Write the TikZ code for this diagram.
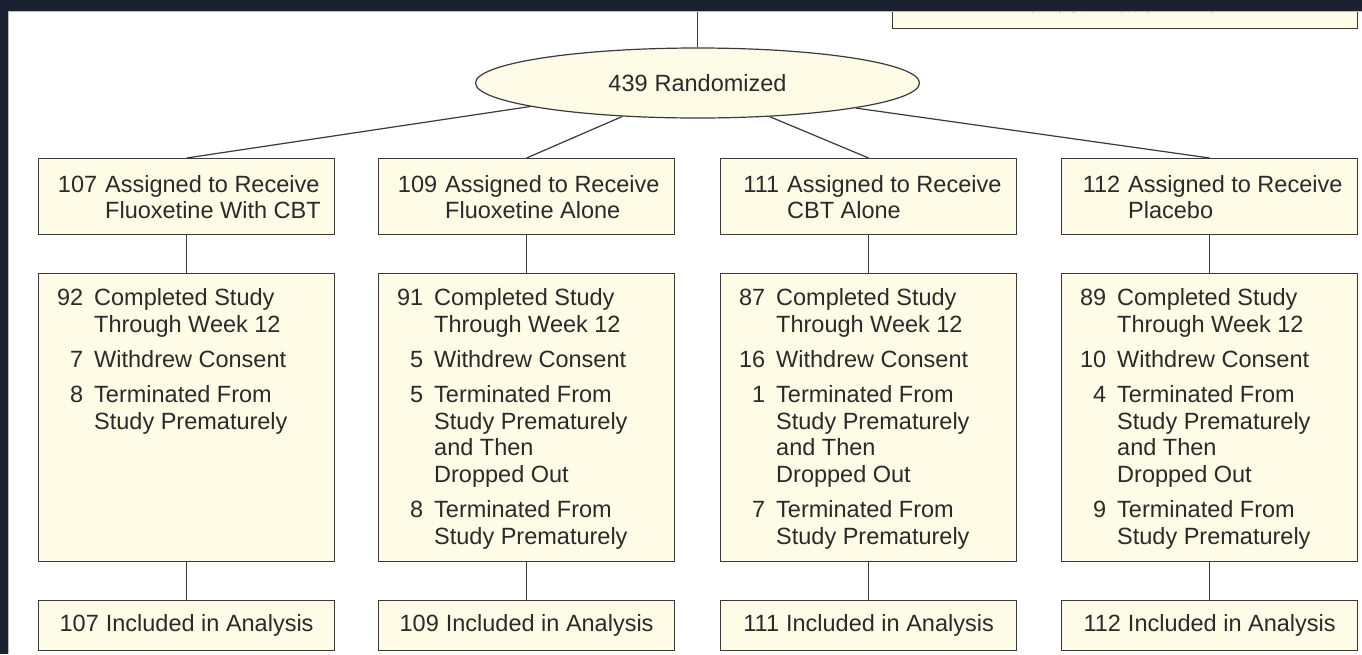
\documentclass[tikz,border=0pt]{standalone}
\usepackage{fontspec}
\setmainfont{Liberation Sans}
\usetikzlibrary{shapes.geometric}
\definecolor{cream}{HTML}{FEFCE6}
\definecolor{edge}{HTML}{3A3A3A}
\definecolor{ink}{HTML}{2A2A2A}
\definecolor{frame}{HTML}{1B2130}
\newcommand\numA[1]{\makebox[49pt][r]{#1}}
\newcommand\numB[1]{\makebox[33pt][r]{#1}}
\begin{document}
\begin{tikzpicture}[x=1pt,y=-1pt,
  box/.style={draw=edge, fill=cream, line width=1.2pt, inner sep=0pt,
              anchor=north west, minimum width=296pt},
  link/.style={draw=edge, line width=1.2pt},
  txt/.style={anchor=base west, inner sep=0pt, text=ink,
              font=\fontsize{23.5}{26.6}\selectfont},
  lbl/.style={text=ink, font=\fontsize{23.5}{26.6}\selectfont}]

\useasboundingbox (0,0) rectangle (1362,654);
\fill[white] (0,0) rectangle (1362,654);

% exclusion box at the top right (mostly above the visible area)
\node[box, minimum width=465pt, minimum height=48pt] (err) at (892,-20) {};
\node[txt] (errt) at (991,12.5) {1\hspace{7pt}Randomization Error};

% randomization ellipse
\coordinate (top) at (697.5,0);
\node[ellipse, draw=edge, fill=cream, line width=1.2pt, inner sep=0pt,
      minimum width=444pt, minimum height=70pt, lbl] (rand) at (697.5,83)
      {439\hspace{7pt}Randomized};
\draw[link] (top) -- (rand.north);

% four arms: assignment, course, analysis
\foreach \i/\x in {1/38,2/378,3/720,4/1061}{
  \node[box, minimum height=76pt]  (a\i) at (\x,158) {};
  \node[box, minimum height=288pt] (c\i) at (\x,273) {};
  \node[box, minimum height=50pt]  (d\i) at (\x,600) {};
  \draw[link] (a\i.south) -- (c\i.north);
  \draw[link] (c\i.south) -- (d\i.north);
}

\draw[link] (rand.188.5) -- (a1.north);
\draw[link] (rand.204.2) -- (a2.north);
\draw[link] (rand.335.8) -- (a3.north);
\draw[link] (rand.351.75) -- (a4.north);

% assignment texts
\node[txt] (ta1) at (48,192) {\begin{tabular}[t]{@{}l@{\hspace{8pt}}l@{}}
  \numA{107} & Assigned to Receive\\ & Fluoxetine With CBT\end{tabular}};
\node[txt] (ta2) at (388,192) {\begin{tabular}[t]{@{}l@{\hspace{8pt}}l@{}}
  \numA{109} & Assigned to Receive\\ & Fluoxetine Alone\end{tabular}};
\node[txt] (ta3) at (730,192) {\begin{tabular}[t]{@{}l@{\hspace{8pt}}l@{}}
  \numA{111} & Assigned to Receive\\ & CBT Alone\end{tabular}};
\node[txt] (ta4) at (1071,192) {\begin{tabular}[t]{@{}l@{\hspace{8pt}}l@{}}
  \numA{112} & Assigned to Receive\\ & Placebo\end{tabular}};

% course-of-study texts
\node[txt] (tc1) at (50,305.7) {\begin{tabular}[t]{@{}l@{\hspace{11pt}}l@{}}
  \numB{92} & Completed Study\\ & Through Week 12\\[8.5pt]
  \numB{7} & Withdrew Consent\\[8.5pt]
  \numB{8} & Terminated From\\ & Study Prematurely\end{tabular}};
\node[txt] (tc2) at (390,305.7) {\begin{tabular}[t]{@{}l@{\hspace{11pt}}l@{}}
  \numB{91} & Completed Study\\ & Through Week 12\\[8.5pt]
  \numB{5} & Withdrew Consent\\[8.5pt]
  \numB{5} & Terminated From\\ & Study Prematurely\\ & and Then\\ & Dropped Out\\[8.5pt]
  \numB{8} & Terminated From\\ & Study Prematurely\end{tabular}};
\node[txt] (tc3) at (732,305.7) {\begin{tabular}[t]{@{}l@{\hspace{11pt}}l@{}}
  \numB{87} & Completed Study\\ & Through Week 12\\[8.5pt]
  \numB{16} & Withdrew Consent\\[8.5pt]
  \numB{1} & Terminated From\\ & Study Prematurely\\ & and Then\\ & Dropped Out\\[8.5pt]
  \numB{7} & Terminated From\\ & Study Prematurely\end{tabular}};
\node[txt] (tc4) at (1073,305.7) {\begin{tabular}[t]{@{}l@{\hspace{11pt}}l@{}}
  \numB{89} & Completed Study\\ & Through Week 12\\[8.5pt]
  \numB{10} & Withdrew Consent\\[8.5pt]
  \numB{4} & Terminated From\\ & Study Prematurely\\ & and Then\\ & Dropped Out\\[8.5pt]
  \numB{9} & Terminated From\\ & Study Prematurely\end{tabular}};

% analysis texts
\node[lbl] (td1) at (d1.center) {107\hspace{7pt}Included in Analysis};
\node[lbl] (td2) at (d2.center) {109\hspace{7pt}Included in Analysis};
\node[lbl] (td3) at (d3.center) {111\hspace{7pt}Included in Analysis};
\node[lbl] (td4) at (d4.center) {112\hspace{7pt}Included in Analysis};

% window frame
\fill[frame] (0,0) rectangle (1362,11);
\fill[frame] (0,0) rectangle (8,654);
\draw[gray!55, line width=0.6pt] (8.3,654) -- (8.3,11.3) -- (1362,11.3);
\end{tikzpicture}
\end{document}
